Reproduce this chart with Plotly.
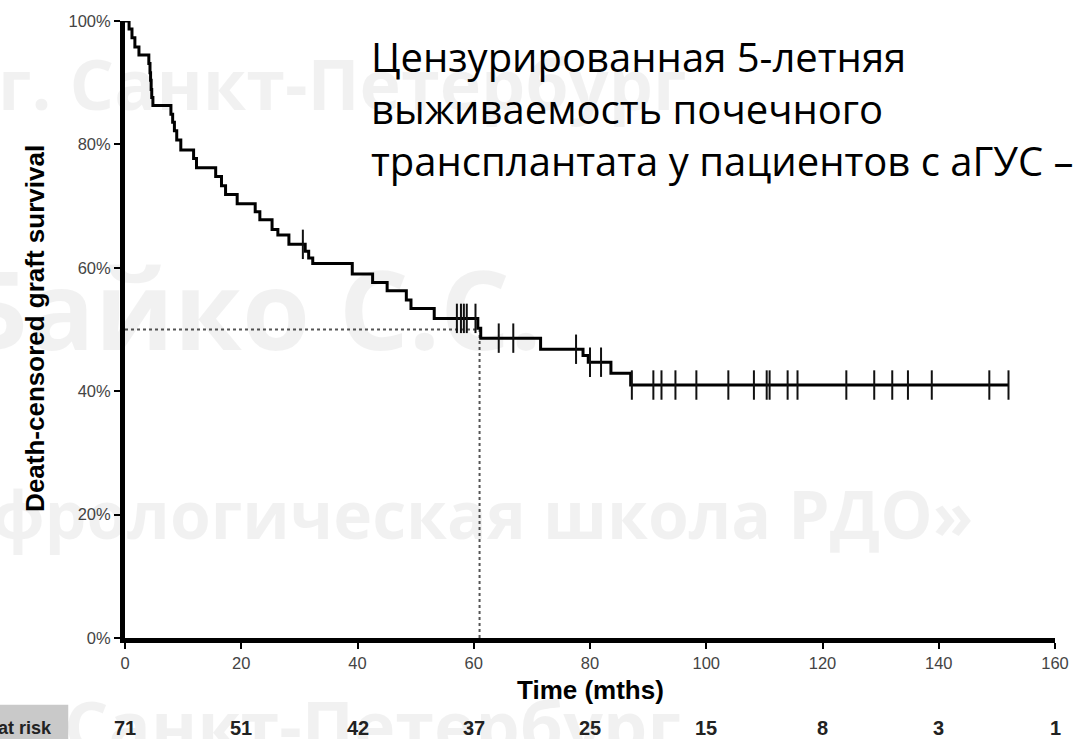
import numpy as np
import plotly.graph_objects as go

# ---- data ----
event_t = [0, 0.7, 1.2, 1.7, 2.4, 4.1, 4.3, 4.4, 4.5, 4.6, 4.8, 7.9, 8.2, 8.5, 8.9, 9.6,
           11.8, 12.3, 15.6, 16.6, 17.3, 19.3, 22.4, 23.2, 25.3, 26.3, 28.2, 31.0, 31.6,
           32.3, 39.1, 42.6, 45.1, 48.4, 49.2, 53.2, 60.7, 61.2, 71.5, 78.8, 79.7, 83.6, 87.0]
survival = [100, 98.7, 97.3, 95.8, 94.5, 93.1, 91.6, 90.4, 88.9, 87.6, 86.3, 84.9, 83.6,
            82.2, 80.7, 79.1, 77.7, 76.2, 74.8, 73.3, 71.9, 70.4, 69.1, 67.8, 66.2, 65.3,
            63.8, 62.7, 61.6, 60.7, 59.0, 57.6, 56.3, 54.8, 53.4, 51.8, 50.2, 48.6, 46.8,
            45.8, 44.7, 42.9, 41.0]
last_followup = 152.0
censor_t = [30.6, 57.1, 57.8, 58.3, 58.8, 60.3, 64.3, 66.8, 77.6, 80.0, 81.9, 87.2, 90.9,
            92.3, 94.7, 98.3, 103.8, 108.2, 110.4, 110.9, 114.0, 115.7, 124.1, 128.9, 132.0,
            134.7, 138.8, 148.7, 152.0]
median_t = 61.0
median_s = 50
risk_t = [0, 20, 40, 60, 80, 100, 120, 140, 160]
risk_n = [71, 51, 42, 37, 25, 15, 8, 3, 1]
x_ticks = [0, 20, 40, 60, 80, 100, 120, 140, 160]
y_ticks = [0, 20, 40, 60, 80, 100]
y_ticktext = ["0%", "20%", "40%", "60%", "80%", "100%"]

title_lines = ["Цензурированная 5-летняя",
               "выживаемость почечного",
               "трансплантата у пациентов с аГУС –"]

# step-function value at censoring times
ev = np.array(event_t)
sv = np.array(survival)
censor_s = sv[np.searchsorted(ev, np.array(censor_t), side="right") - 1]

W, H = 1081, 739
ML, MR, MT, MB = 125, 22, 18, 101
PW, PH = W - ML - MR, H - MT - MB


def px(x):
    return (x - ML) / PW


def py(y):
    return (H - MB - y) / PH


fig = go.Figure()

fig.add_trace(go.Scatter(
    x=[0, median_t, median_t], y=[median_s, median_s, 0], mode="lines",
    line=dict(color="#555555", width=2, dash="dot"), hoverinfo="skip", showlegend=False))

fig.add_trace(go.Scatter(
    x=event_t + [last_followup], y=survival + [survival[-1]], mode="lines",
    line=dict(color="black", width=3, shape="hv"), showlegend=False, cliponaxis=False))

fig.add_trace(go.Scatter(
    x=censor_t, y=censor_s, mode="markers",
    marker=dict(symbol="line-ns", size=21, line=dict(color="#111111", width=2)),
    showlegend=False, cliponaxis=False))

axis_common = dict(showline=True, linewidth=5, linecolor="black", ticks="outside",
                   ticklen=6, tickwidth=2, tickcolor="black", showgrid=False,
                   zeroline=False, tickfont=dict(family="Liberation Sans", size=16.5, color="#444444"))

fig.update_xaxes(range=[0, 160], tickmode="array", tickvals=x_ticks,
                 ticktext=[str(v) for v in x_ticks], **axis_common)
fig.update_yaxes(range=[0, 100], tickmode="array", tickvals=y_ticks, ticktext=y_ticktext,
                 **axis_common)

ann = []
wm = "rgba(0,0,0,0.055)"
wm_font = "Open Sans"
ann.append(dict(text="г. Санкт-Петербург", x=px(-5), y=py(80), xanchor="left", yanchor="middle",
                font=dict(family=wm_font, size=70, color=wm, weight=700)))
ann.append(dict(text="Байко С.С.", x=px(-45), y=py(305), xanchor="left", yanchor="middle",
                font=dict(family=wm_font, size=110, color=wm, weight=700)))
ann.append(dict(text="фрологическая школа РДО»", x=px(-12), y=py(512), xanchor="left", yanchor="middle",
                font=dict(family=wm_font, size=66, color=wm, weight=700)))
ann.append(dict(text="Санкт-Петербург", x=px(62), y=py(725), xanchor="left", yanchor="middle",
                font=dict(family=wm_font, size=70, color=wm, weight=700)))

for i, (line, yc) in enumerate(zip(title_lines, [54, 106, 158])):
    ann.append(dict(text=line, x=px(370), y=py(yc), xanchor="left", yanchor="middle",
                    font=dict(family="Open Sans", size=40, color="black")))

ann.append(dict(text="<b>Death-censored graft survival</b>", x=px(34), y=py(327), textangle=-90,
                xanchor="center", yanchor="middle",
                font=dict(family="Liberation Sans", size=26, color="black")))
ann.append(dict(text="<b>Time (mths)</b>", x=px(592), y=py(690), xanchor="center", yanchor="middle",
                font=dict(family="Liberation Sans", size=26, color="black")))

for t, n in zip(risk_t, risk_n):
    ann.append(dict(text=f"<b>{n}</b>", x=t, xref="x", y=py(728), yref="paper",
                    xanchor="center", yanchor="middle",
                    font=dict(family="Liberation Sans", size=20, color="#222222")))
ann.append(dict(text="<b>at risk</b>", x=px(54), y=py(728), xanchor="right", yanchor="middle",
                font=dict(family="Liberation Sans", size=18, color="#222222")))

for a in ann:
    a.setdefault("xref", "paper")
    a.setdefault("yref", "paper")
    a["showarrow"] = False

fig.update_layout(
    width=W, height=H, margin=dict(l=ML, r=MR, t=MT, b=MB),
    plot_bgcolor="white", paper_bgcolor="white",
    annotations=ann,
    shapes=[dict(type="rect", xref="paper", yref="paper", x0=px(-2), x1=px(68), y0=py(741), y1=py(705),
                 fillcolor="#c9c9c9", line=dict(width=0), layer="below")],
)

fig.write_html("out.html")
